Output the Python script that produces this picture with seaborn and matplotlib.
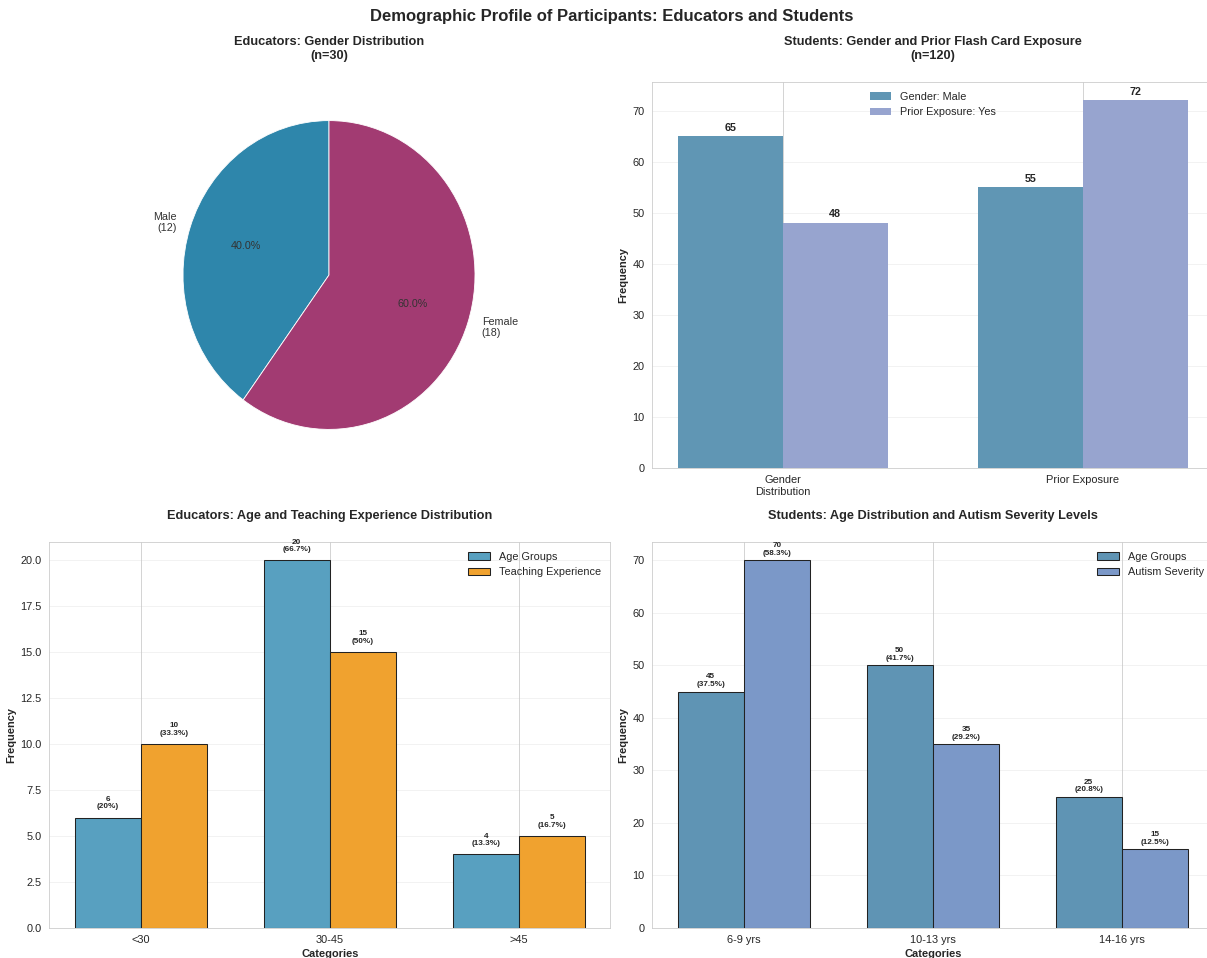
import numpy as np
import pandas as pd
import matplotlib
matplotlib.use('Agg')
import matplotlib.pyplot as plt
import seaborn as sns

# Educators gender (pie)
edu_gender_labels = ['Male', 'Female']
edu_gender_counts = [12, 18]

# Students gender / prior exposure
stu_groups = ['Gender\nDistribution', 'Prior Exposure']
stu_male = [65, 55]
stu_prior_yes = [48, 72]

# Educators age / teaching experience
edu_categories = ['<30', '30-45', '>45']
edu_age = [6, 20, 4]
edu_teaching = [10, 15, 5]

# Students age / autism severity
stu_categories = ['6-9 yrs', '10-13 yrs', '14-16 yrs']
stu_age = [45, 50, 25]
stu_autism = [70, 35, 15]

n_educators = 30
n_students = 120

sns.set_style('whitegrid')
plt.rcParams['font.family'] = ['Liberation Sans', 'DejaVu Sans']
plt.rcParams['xtick.labelsize'] = 10.5
plt.rcParams['ytick.labelsize'] = 10.5


def long_df(cats, a, b, name_a, name_b):
    return pd.DataFrame({
        'category': list(cats) * 2,
        'value': list(a) + list(b),
        'series': [name_a] * len(cats) + [name_b] * len(cats),
    })


W, H = 1207, 958
fig = plt.figure(figsize=(W / 75, H / 75), dpi=75)

ax_pie = fig.add_axes([146.5 / W, 1 - 468 / H, 365 / W, 386 / H])
ax_tr = fig.add_axes([652 / W, 1 - 468 / H, 561.5 / W, 386 / H])
ax_bl = fig.add_axes([49 / W, 1 - 928 / H, 561.5 / W, 386 / H])
ax_br = fig.add_axes([652 / W, 1 - 928 / H, 561.5 / W, 386 / H])

# --- Educators gender pie
pie_labels = [f'{l}\n({c})' for l, c in zip(edu_gender_labels, edu_gender_counts)]
ax_pie.pie(edu_gender_counts, labels=pie_labels, colors=['#2e86ab', '#a23b72'],
           autopct='%1.1f%%', startangle=90,
           wedgeprops=dict(edgecolor='white', linewidth=0.8),
           textprops=dict(fontsize=10.3, color='#333333'))
ax_pie.set_aspect('auto')
ax_pie.set_title(f'Educators: Gender Distribution\n(n={n_educators})',
                 fontsize=12.2, fontweight='bold', pad=22)

# --- Students gender / prior exposure
df_tr = long_df(stu_groups, stu_male, stu_prior_yes, 'Gender: Male', 'Prior Exposure: Yes')
sns.barplot(data=df_tr, x='category', y='value', hue='series',
            palette=['#6096b4', '#97a4cf'], width=0.7, saturation=1,
            linewidth=0, ax=ax_tr)
for cont in ax_tr.containers:
    for bar in cont:
        h = bar.get_height()
        ax_tr.text(bar.get_x() + bar.get_width() / 2, h + 0.7, f'{int(h)}',
                   ha='center', va='bottom', fontsize=10.3, fontweight='bold')
ax_tr.set_xlim(-0.435, 1.435)
ax_tr.set_ylim(0, max(stu_prior_yes) * 1.05)
ax_tr.set_title(f'Students: Gender and Prior Flash Card Exposure\n(n={n_students})',
                fontsize=12.2, fontweight='bold', pad=22)
ax_tr.set_xlabel('')
ax_tr.set_ylabel('Frequency', fontsize=10.5, fontweight='bold')
ax_tr.legend(loc='upper center', frameon=False, fontsize=10.4)
ax_tr.xaxis.grid(True)
ax_tr.grid(axis='y', alpha=0.3)


def grouped_bars(ax, cats, a, b, name_a, name_b, colors, total, offset, title):
    df = long_df(cats, a, b, name_a, name_b)
    sns.barplot(data=df, x='category', y='value', hue='series', palette=colors,
                width=0.7, saturation=1, edgecolor='#222222', linewidth=1, ax=ax)
    for cont in ax.containers:
        for bar in cont:
            h = bar.get_height()
            pct = h / total * 100
            ax.text(bar.get_x() + bar.get_width() / 2, h + offset,
                    f'{int(h)}\n({pct:.3g}%)', ha='center', va='bottom',
                    fontsize=7.8, fontweight='bold', linespacing=1.1)
    ax.set_xlim(-0.485, len(cats) - 1 + 0.485)
    ax.set_ylim(0, max(max(a), max(b)) * 1.05)
    ax.set_title(title, fontsize=12.2, fontweight='bold', pad=22)
    ax.set_xlabel('Categories', fontsize=10.5, fontweight='bold')
    ax.set_ylabel('Frequency', fontsize=10.5, fontweight='bold')
    ax.legend(loc='upper right', frameon=False, fontsize=10.4)
    ax.xaxis.grid(True)
    ax.grid(axis='y', alpha=0.3)


grouped_bars(ax_bl, edu_categories, edu_age, edu_teaching, 'Age Groups',
             'Teaching Experience', ['#58a0c0', '#f0a22f'], n_educators, 0.4,
             'Educators: Age and Teaching Experience Distribution')
grouped_bars(ax_br, stu_categories, stu_age, stu_autism, 'Age Groups',
             'Autism Severity', ['#5f94b4', '#7b98c8'], n_students, 0.7,
             'Students: Age Distribution and Autism Severity Levels')

fig.suptitle('Demographic Profile of Participants: Educators and Students',
             fontsize=16, fontweight='bold', x=611.5 / W, y=1 - 9.5 / H, va='top')

fig.savefig('out.png', dpi=75)
